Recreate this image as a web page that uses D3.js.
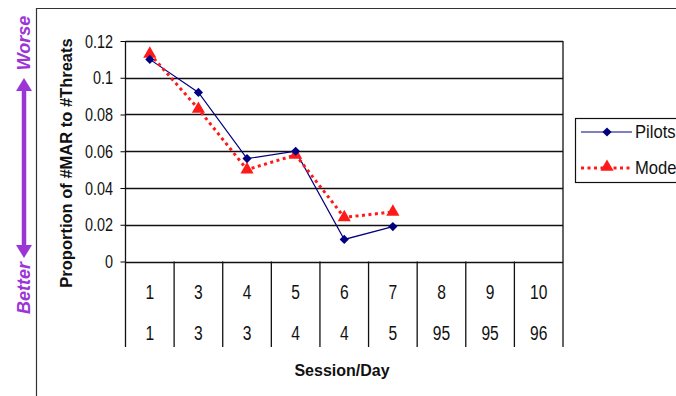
<!DOCTYPE html>
<html><head><meta charset="utf-8">
<script src="https://cdn.jsdelivr.net/npm/d3@7"></script>
<style>
html,body{margin:0;padding:0;background:#fff;}
svg{display:block;}
.num{font-family:"Liberation Sans",Arial,sans-serif;}
</style></head>
<body>
<svg id="c" width="676" height="396"></svg>
<script>
const sessions = ["1","3","4","5","6","7","8","9","10"];
const days = ["1","3","3","4","4","5","95","95","96"];
const pilots = [0.110, 0.092, 0.056, 0.060, 0.012, 0.019];
const model = [0.113, 0.083, 0.050, 0.058, 0.024, 0.027];
const yTicks = [0, 0.02, 0.04, 0.06, 0.08, 0.1, 0.12];
const yTickLabels = ["0","0.02","0.04","0.06","0.08","0.1","0.12"];

const svg = d3.select("#c");
const L = 125.5, R = 563, T = 41, B = 261.5, TB = 347;
const x = d3.scaleBand().domain(d3.range(sessions.length)).range([L, R]);
const y = d3.scaleLinear().domain([0, 0.12]).range([B, T]);
const SX = 0.8; // narrow text like the original

// outer frame
svg.append("line").attr("x1",36.5).attr("x2",36.5).attr("y1",8).attr("y2",396).attr("stroke","#333").attr("stroke-width",1.2);
svg.append("line").attr("x1",36).attr("x2",676).attr("y1",8.5).attr("y2",8.5).attr("stroke","#333").attr("stroke-width",1.2);

// gridlines + y axis
const yAxis = d3.axisLeft(y).tickValues(yTicks).tickFormat(()=>"").tickSize(5);
const yg = svg.append("g").attr("transform",`translate(${L},0)`).call(yAxis);
yg.select(".domain").remove();
yg.selectAll(".tick line").attr("stroke","#000");
svg.append("g").selectAll("text").data(yTicks).join("text").attr("class","num")
  .attr("transform",d=>`translate(113,${y(d)+6.5}) scale(${SX},1)`).attr("text-anchor","end")
  .attr("font-size",18).attr("fill","#111").text((d,i)=>yTickLabels[i]);
svg.append("g").selectAll("line").data(yTicks).join("line")
  .attr("x1",L).attr("x2",R).attr("y1",d=>Math.round(y(d))+0.5).attr("y2",d=>Math.round(y(d))+0.5)
  .attr("stroke","#111").attr("stroke-width",1.3);

// vertical band dividers (table)
const edges = d3.range(sessions.length+1).map(i => i<sessions.length ? x(i) : x(sessions.length-1)+x.bandwidth());
svg.append("g").selectAll("line").data(edges).join("line")
  .attr("x1",d=>d).attr("x2",d=>d).attr("y1",(d,i)=> (i===0||i===edges.length-1)?T:B).attr("y2",TB)
  .attr("stroke","#111").attr("stroke-width",1.3);

// table labels
const cx = i => x(i)+x.bandwidth()/2;
svg.append("g").selectAll("text").data(sessions).join("text").attr("class","num")
  .attr("transform",(d,i)=>`translate(${cx(i)},299) scale(${SX},1)`).attr("text-anchor","middle").attr("font-size",19.5).attr("fill","#111").text(d=>d);
svg.append("g").selectAll("text").data(days).join("text").attr("class","num")
  .attr("transform",(d,i)=>`translate(${cx(i)},340) scale(${SX},1)`).attr("text-anchor","middle").attr("font-size",19.5).attr("fill","#111").text(d=>d);

// axis titles
svg.append("text").attr("x",342).attr("y",376).attr("text-anchor","middle")
  .attr("font-family","Liberation Sans, Arial, sans-serif").attr("font-weight","bold").attr("font-size",16).attr("fill","#111").text("Session/Day");
svg.append("text").attr("transform","translate(72,163) rotate(-90)").attr("text-anchor","middle")
  .attr("font-family","Liberation Sans, Arial, sans-serif").attr("font-weight","bold").attr("font-size",16.5).attr("fill","#111").text("Proportion of #MAR to #Threats");

// Worse / Better
const purple = "#9b35d6";
svg.append("text").attr("transform","translate(30,43) rotate(-90)").attr("text-anchor","middle")
  .attr("font-family","Liberation Sans, Arial, sans-serif").attr("font-weight","bold").attr("font-style","italic").attr("font-size",18).attr("fill",purple).text("Worse");
svg.append("text").attr("transform","translate(30,288) rotate(-90)").attr("text-anchor","middle")
  .attr("font-family","Liberation Sans, Arial, sans-serif").attr("font-weight","bold").attr("font-style","italic").attr("font-size",18).attr("fill",purple).text("Better");
svg.append("line").attr("x1",24).attr("x2",24).attr("y1",88).attr("y2",248).attr("stroke",purple).attr("stroke-width",4.5);
svg.append("path").attr("d","M24,78 L16,91 L32,91 Z").attr("fill",purple);
svg.append("path").attr("d","M24,258 L16,245 L32,245 Z").attr("fill",purple);

// series
const line = d3.line().x((d,i)=>cx(i)).y(d=>y(d));
svg.append("path").datum(pilots).attr("d",line).attr("fill","none").attr("stroke","#000080").attr("stroke-width",1.2);
svg.append("path").datum(model).attr("d",line).attr("fill","none").attr("stroke","#ff1a1a").attr("stroke-width",3).attr("stroke-dasharray","3,3.5");
const diamond = d3.symbol().type(d3.symbolSquare).size(42);
const tri = d3.symbol().type(d3.symbolTriangle).size(75);
svg.append("g").selectAll("path").data(model).join("path").attr("d",tri).attr("transform",(d,i)=>`translate(${cx(i)},${y(d)})`).attr("fill","#ff1a1a");
svg.append("g").selectAll("path").data(pilots).join("path").attr("d",diamond).attr("transform",(d,i)=>`translate(${cx(i)},${y(d)}) rotate(45)`).attr("fill","#000080");

// legend
const lg = svg.append("g");
lg.append("rect").attr("x",575.5).attr("y",118.5).attr("width",130).attr("height",64).attr("fill","#fff").attr("stroke","#111").attr("stroke-width",1.2);
lg.append("line").attr("x1",581).attr("x2",632).attr("y1",132).attr("y2",132).attr("stroke","#000080").attr("stroke-width",1.2);
lg.append("path").attr("d",diamond).attr("transform","translate(607,132) rotate(45)").attr("fill","#000080");
lg.append("line").attr("x1",581).attr("x2",632).attr("y1",168).attr("y2",168).attr("stroke","#ff1a1a").attr("stroke-width",3).attr("stroke-dasharray","3,3.5");
lg.append("path").attr("d",tri).attr("transform","translate(607,167)").attr("fill","#ff1a1a");
lg.append("text").attr("class","num").attr("transform","translate(635,138) scale(0.95,1)").attr("font-size",17.5).attr("fill","#111").text("Pilots");
lg.append("text").attr("class","num").attr("transform","translate(635,174) scale(0.95,1)").attr("font-size",17.5).attr("fill","#111").text("Model");
</script>
</body></html>
